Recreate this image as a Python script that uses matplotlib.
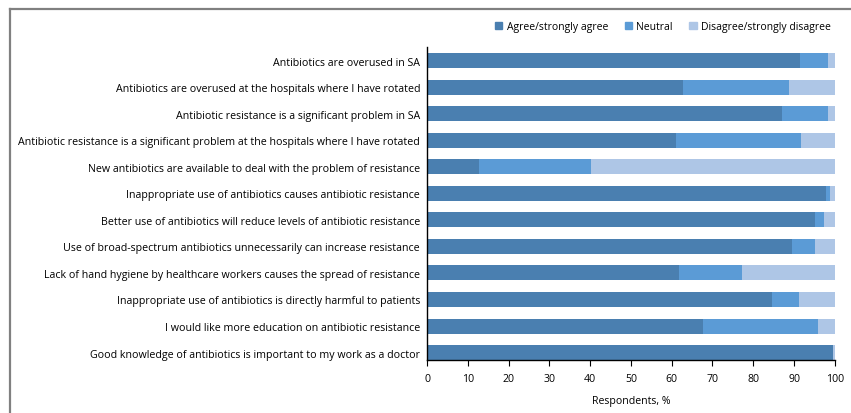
import matplotlib.pyplot as plt
from matplotlib.patches import Patch
from matplotlib.lines import Line2D

plt.rcParams['font.family'] = ['Open Sans', 'DejaVu Sans']

# 설문 문항
statements = [
    'Antibiotics are overused in SA',
    'Antibiotics are overused at the hospitals where I have rotated',
    'Antibiotic resistance is a significant problem in SA',
    'Antibiotic resistance is a significant problem at the hospitals where I have rotated',
    'New antibiotics are available to deal with the problem of resistance',
    'Inappropriate use of antibiotics causes antibiotic resistance',
    'Better use of antibiotics will reduce levels of antibiotic resistance',
    'Use of broad-spectrum antibiotics unnecessarily can increase resistance',
    'Lack of hand hygiene by healthcare workers causes the spread of resistance',
    'Inappropriate use of antibiotics is directly harmful to patients',
    'I would like more education on antibiotic resistance',
    'Good knowledge of antibiotics is important to my work as a doctor',
]

# 응답 비율 (%)
agree = [91.4, 62.7, 87.0, 61.0, 12.7, 97.8, 95.1, 89.6, 61.7, 84.5, 67.6, 99.5]
neutral = [6.9, 26.0, 11.3, 30.6, 27.5, 0.9, 2.2, 5.5, 15.5, 6.6, 28.2, 0.0]
disagree = [1.7, 11.3, 1.7, 8.4, 59.8, 1.3, 2.7, 4.9, 22.8, 8.9, 4.2, 0.5]

series_names = ['Agree/strongly agree', 'Neutral', 'Disagree/strongly disagree']
colors = ['#4a7fb0', '#5b9bd6', '#aec6e6']
x_ticks = list(range(0, 101, 10))

fig = plt.figure(figsize=(8.51, 4.14), dpi=100)
ax = fig.add_axes([0.5018, 0.128, 0.4792, 0.756])

y = list(range(len(statements)))
left2 = [a + n for a, n in zip(agree, neutral)]
ax.barh(y, agree, height=0.565, color=colors[0])
ax.barh(y, neutral, left=agree, height=0.565, color=colors[1])
ax.barh(y, disagree, left=left2, height=0.565, color=colors[2])

ax.set_ylim(11.28, -0.51)
ax.set_xlim(0, 100)
ax.set_yticks(y)
ax.set_yticklabels(statements, fontsize=7.65)
ax.tick_params(axis='y', length=0, pad=5)
ax.set_xticks(x_ticks)
ax.tick_params(axis='x', labelsize=7.6, length=4, width=0.8, pad=5)
ax.set_xlabel('Respondents, %', fontsize=7.6, labelpad=8)

for s in ['top', 'right']:
    ax.spines[s].set_visible(False)
ax.spines['left'].set_linewidth(1.0)
ax.spines['bottom'].set_linewidth(1.0)

handles = [Patch(color=c) for c in colors]
ax.legend(handles, series_names, loc='lower right', bbox_to_anchor=(1.0, 1.035),
          ncol=3, frameon=False, fontsize=7.5, handlelength=0.7, handleheight=0.7,
          handletextpad=0.4, columnspacing=1.6, borderaxespad=0)

# 바깥 테두리 (위, 왼쪽)
fig.add_artist(Line2D([10 / 851, 1], [1 - 10 / 414, 1 - 10 / 414],
                      transform=fig.transFigure, color='#808080', lw=1.6))
fig.add_artist(Line2D([10 / 851, 10 / 851], [0, 1 - 10 / 414],
                      transform=fig.transFigure, color='#808080', lw=1.6))

fig.savefig('out.png', dpi=100)
